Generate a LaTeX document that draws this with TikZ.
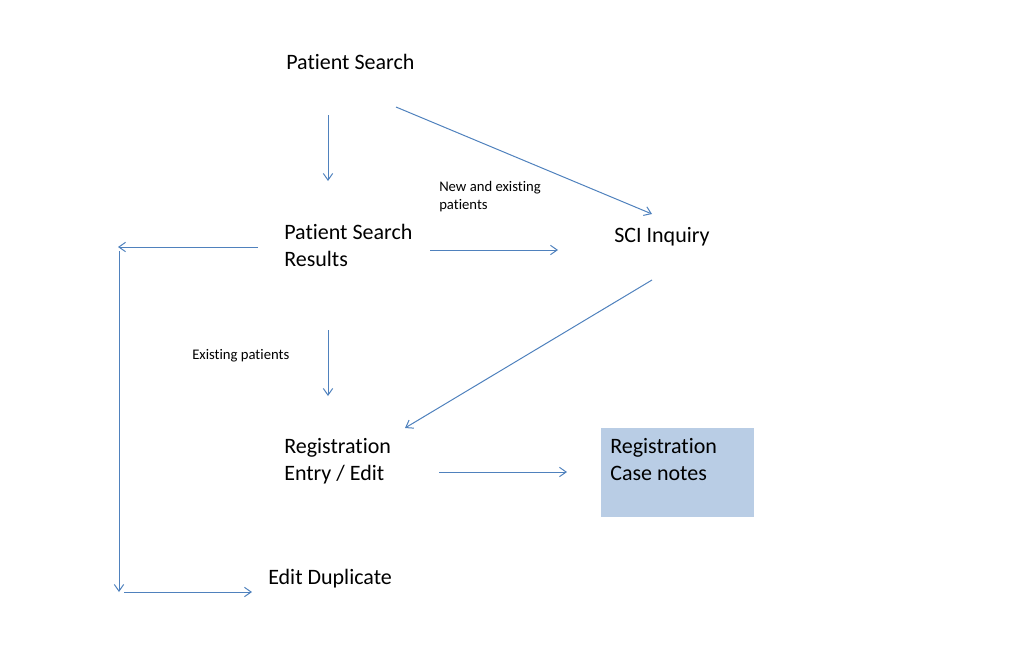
\documentclass[tikz,border=0pt]{standalone}
\usepackage{fontspec}
\setmainfont{Carlito}[RawFeature=-liga]
\usetikzlibrary{arrows.meta}
\definecolor{linkblue}{RGB}{79,129,189}
\definecolor{boxblue}{RGB}{185,205,229}
\begin{document}
\begin{tikzpicture}[x=0.75pt,y=-0.75pt,
  big/.style={inner sep=0pt,anchor=base west,align=left,font=\fontsize{16.5}{20.25}\selectfont},
  small/.style={inner sep=0pt,anchor=base west,align=left,font=\fontsize{11}{13.5}\selectfont},
  conn/.style={draw=linkblue,line width=0.75pt,-{Straight Barb[length=5pt,width=7pt,line width=0.75pt]}}]
\useasboundingbox (0,0) rectangle (1024,664);
% texts (base anchor = baseline of the last line)
\node[big] (ps) at (286,69) {Patient Search};
\node[big] (psr) at (284,266) {Patient Search\\Results};
\node[big] (sci) at (614,242) {SCI Inquiry};
\node[big] (reg) at (284,480) {Registration\\Entry / Edit};
\node[fill=boxblue,inner sep=0pt,minimum width=153*0.75pt,minimum height=89*0.75pt,anchor=north west] (box) at (601,428) {};
\node[big] (cn) at (610,480) {Registration\\Case notes};
\node[big] (ed) at (268,584) {Edit Duplicate};
\node[small] (ne) at (439,209) {New and existing\\patients};
\node[small] (ex) at (192,359) {Existing patients};
% connector end points
\coordinate (a1) at (328,115); \coordinate (a2) at (328,181);
\coordinate (b1) at (396,107); \coordinate (b2) at (652,214);
\coordinate (c1) at (430,250); \coordinate (c2) at (558,250);
\coordinate (d1) at (258,247); \coordinate (d2) at (118,247);
\coordinate (e1) at (119,251); \coordinate (e2) at (119,592);
\coordinate (f1) at (124,592); \coordinate (f2) at (252,592);
\coordinate (g1) at (328,330); \coordinate (g2) at (328,396);
\coordinate (h1) at (652,280); \coordinate (h2) at (405,428);
\coordinate (i1) at (439,472); \coordinate (i2) at (567,472);
\draw[conn] (a1) -- (a2);
\draw[conn] (b1) -- (b2);
\draw[conn] (c1) -- (c2);
\draw[conn] (d1) -- (d2);
\draw[conn] (e1) -- (e2);
\draw[conn] (f1) -- (f2);
\draw[conn] (g1) -- (g2);
\draw[conn] (h1) -- (h2);
\draw[conn] (i1) -- (i2);
\end{tikzpicture}
\end{document}
